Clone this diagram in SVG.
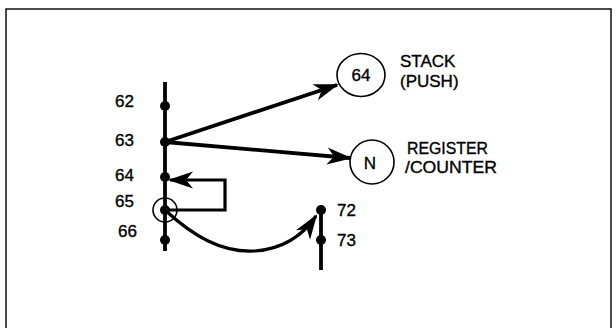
<svg xmlns="http://www.w3.org/2000/svg" width="616" height="328" viewBox="0 0 616 328">
<style>
.t{font-family:"Liberation Sans",Arial,sans-serif;font-size:17px;fill:#000;stroke:#000;stroke-width:0.35}
.thick{fill:none;stroke:#000;stroke-width:3.8}
.med{fill:none;stroke:#000;stroke-width:3.2}
.thin{fill:none;stroke:#000;stroke-width:1.6}
.dot{fill:#000}
</style>
<defs>
<marker id="ah" markerUnits="userSpaceOnUse" markerWidth="30" markerHeight="24" viewBox="-26 -12 30 24" refX="0" refY="0" orient="auto">
<path d="M2,0 L-23,-8.5 L-16,0 L-23,8.5 Z" fill="#000"/>
</marker>
</defs>
<rect width="616" height="328" fill="#fff"/>
<path d="M6,330 V9 H611 V330" fill="none" stroke="#111" stroke-width="1.5"/>

<g id="bus-left">
<line class="thick" x1="165" y1="82" x2="165" y2="251"/>
<circle class="dot" cx="165" cy="106" r="5"/>
<circle class="dot" cx="165" cy="142" r="5"/>
<circle class="dot" cx="165" cy="177" r="5"/>
<circle class="dot" cx="165" cy="210" r="5"/>
<circle class="dot" cx="165" cy="240" r="5"/>
<circle class="thin" cx="165" cy="210" r="12"/>
<text class="t" x="134" y="107" text-anchor="end">62</text>
<text class="t" x="134" y="146" text-anchor="end">63</text>
<text class="t" x="134" y="181" text-anchor="end">64</text>
<text class="t" x="134" y="207" text-anchor="end">65</text>
<text class="t" x="137" y="237" text-anchor="end">66</text>
</g>

<g id="bus-right">
<line class="thick" x1="321" y1="210" x2="321" y2="270"/>
<circle class="dot" cx="321" cy="210" r="5"/>
<circle class="dot" cx="321" cy="240" r="5"/>
<text class="t" x="337" y="216">72</text>
<text class="t" x="337" y="246">73</text>
</g>

<g id="stack">
<ellipse class="thin" cx="361" cy="75" rx="24" ry="21.5"/>
<text class="t" x="361" y="81" text-anchor="middle">64</text>
<text class="t" x="400" y="67">STACK</text>
<text class="t" x="400" y="86.5">(PUSH)</text>
</g>

<g id="register">
<ellipse class="thin" cx="372" cy="162" rx="22" ry="22"/>
<text class="t" x="370" y="169" text-anchor="middle">N</text>
<text class="t" x="407" y="154" textLength="81" lengthAdjust="spacingAndGlyphs">REGISTER</text>
<text class="t" x="405" y="173" textLength="92" lengthAdjust="spacingAndGlyphs">/COUNTER</text>
</g>

<g id="connectors">
<line class="thick" x1="165" y1="142" x2="337" y2="85" marker-end="url(#ah)"/>
<line class="thick" x1="165" y1="142" x2="350" y2="158" marker-end="url(#ah)"/>
<path class="med" d="M165,210 H225 V180 H170" marker-end="url(#ah)"/>
<path class="med" d="M165,210 C193,236 222,253 255,251 C283,249 303,235 316,216" marker-end="url(#ah)"/>
</g>
</svg>
